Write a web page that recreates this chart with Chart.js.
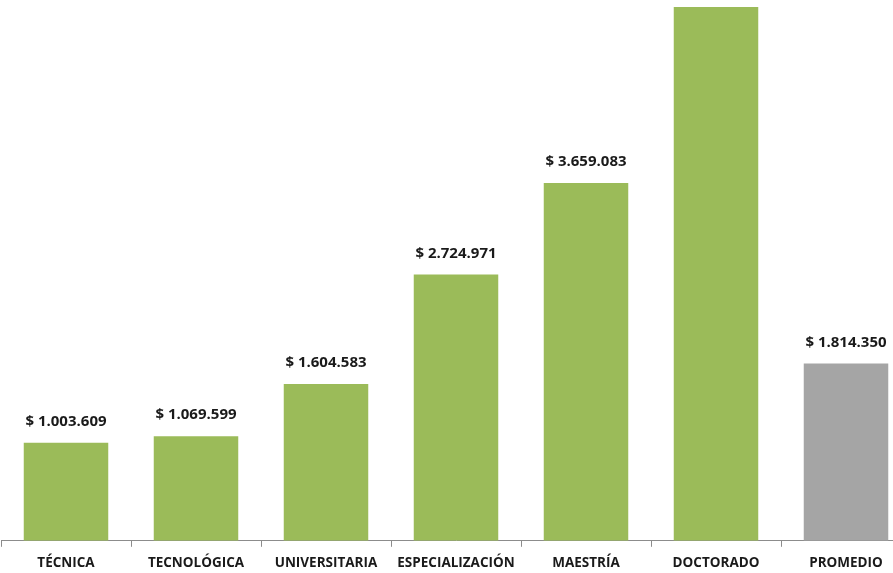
<!DOCTYPE html>
<html>
<head>
<meta charset="utf-8">
<script src="https://cdn.jsdelivr.net/npm/chart.js@4"></script>
<style>
  html, body { margin: 0; padding: 0; background: #fff; overflow: hidden; }
  #wrap { position: relative; width: 912px; height: 579px; }
</style>
</head>
<body>
<div id="wrap"><canvas id="chart" width="912" height="579"></canvas></div>
<script>
// Salario promedio por nivel de formación
const categories = ['TÉCNICA', 'TECNOLÓGICA', 'UNIVERSITARIA', 'ESPECIALIZACIÓN', 'MAESTRÍA', 'DOCTORADO', 'PROMEDIO'];
const salaries = [1003609, 1069599, 1604583, 2724971, 3659083, 5460000, 1814350];
// the doctorado label is cut off in the picture, so it is not drawn
const showLabel = [true, true, true, true, true, false, true];
const barColors = ['#9bbb59', '#9bbb59', '#9bbb59', '#9bbb59', '#9bbb59', '#9bbb59', '#a5a5a5'];

function formatPeso(v) {
  return '$ ' + v.toString().replace(/\B(?=(\d{3})+(?!\d))/g, '.');
}

const valueLabels = {
  id: 'valueLabels',
  afterDatasetsDraw(chart) {
    const ctx = chart.ctx;
    const meta = chart.getDatasetMeta(0);
    ctx.save();
    ctx.font = 'bold 15px "Open Sans"';
    ctx.fillStyle = '#1a1a1a';
    ctx.textAlign = 'center';
    ctx.textBaseline = 'middle';
    meta.data.forEach((bar, i) => {
      if (!showLabel[i]) return;
      ctx.fillText(formatPeso(salaries[i]), bar.x, bar.y - 21);
    });
    ctx.restore();
  }
};

new Chart(document.getElementById('chart').getContext('2d'), {
  type: 'bar',
  data: {
    labels: categories,
    datasets: [{
      data: salaries,
      backgroundColor: barColors,
      borderWidth: 0,
      categoryPercentage: 1,
      barPercentage: 0.65
    }]
  },
  options: {
    responsive: false,
    animation: false,
    layout: { padding: { top: 7, left: 1, right: 1 } },
    scales: {
      y: {
        display: false,
        min: 0,
        max: 5460000
      },
      x: {
        border: { display: true, color: '#8c8c8c', width: 1 },
        grid: {
          drawOnChartArea: false,
          drawTicks: true,
          tickLength: 6,
          color: '#8c8c8c',
          offset: true
        },
        ticks: {
          color: '#1a1a1a',
          font: { family: '"Open Sans"', size: 13.5, weight: 'bold' },
          padding: 8,
          maxRotation: 0,
          autoSkip: false
        }
      }
    },
    plugins: {
      legend: { display: false },
      tooltip: { enabled: false }
    }
  },
  plugins: [valueLabels]
});
</script>
</body>
</html>
